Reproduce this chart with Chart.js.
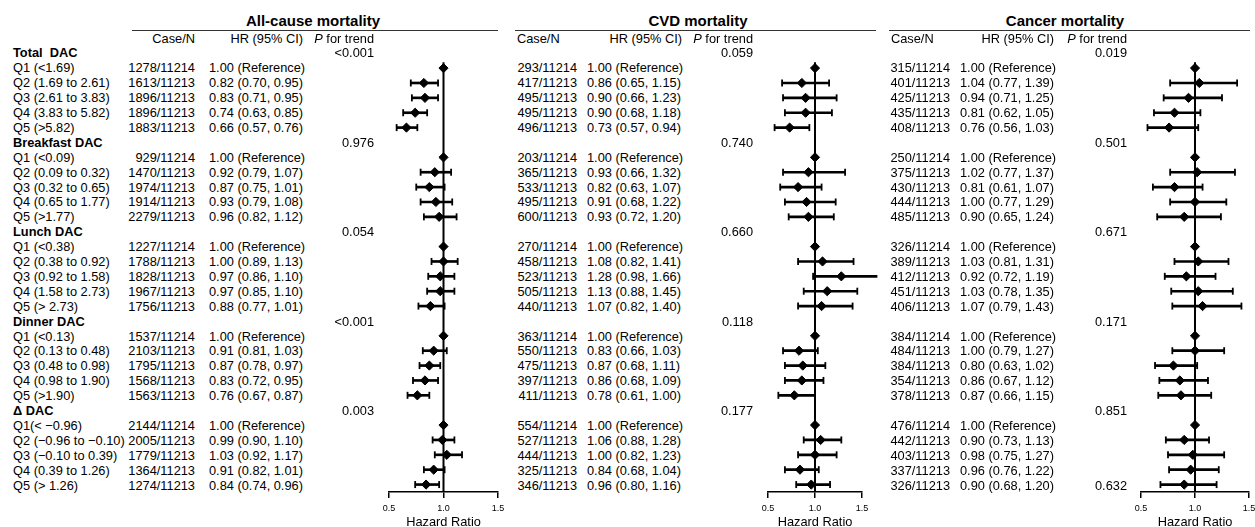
<!DOCTYPE html>
<html><head><meta charset="utf-8">
<script src="https://cdn.jsdelivr.net/npm/chart.js@4"></script>
<style>
html,body{margin:0;padding:0;width:1255px;height:527px;overflow:hidden;background:#fff;}
body{position:relative;font-family:"Liberation Sans",Arial,sans-serif;color:#000;}
.t{position:absolute;white-space:pre;font-size:12.8px;line-height:15px;}
.b{font-weight:bold;}
.ttl{font-size:15px;font-weight:bold;}
canvas{position:absolute;}
.rule{position:absolute;height:1px;background:#333;}
</style></head><body>
<canvas id="c1" width="145" height="490" style="left:370px;top:40px"></canvas>
<canvas id="c2" width="150" height="490" style="left:745px;top:40px"></canvas>
<canvas id="c3" width="150" height="490" style="left:1120px;top:40px"></canvas>
<script>
// ---------- data ----------
const groups = ["Total  DAC", "Breakfast DAC", "Lunch DAC", "Dinner DAC", "\u0394 DAC"];
const quintiles = [
  ["Q1 (<1.69)", "Q2 (1.69 to 2.61)", "Q3 (2.61 to 3.83)", "Q4 (3.83 to 5.82)", "Q5 (>5.82)"],
  ["Q1 (<0.09)", "Q2 (0.09 to 0.32)", "Q3 (0.32 to 0.65)", "Q4 (0.65 to 1.77)", "Q5 (>1.77)"],
  ["Q1 (<0.38)", "Q2 (0.38 to 0.92)", "Q3 (0.92 to 1.58)", "Q4 (1.58 to 2.73)", "Q5 (> 2.73)"],
  ["Q1 (<0.13)", "Q2 (0.13 to 0.48)", "Q3 (0.48 to 0.98)", "Q4 (0.98 to 1.90)", "Q5 (>1.90)"],
  ["Q1(< \u22120.96)", "Q2 (\u22120.96 to \u22120.10)", "Q3 (\u22120.10 to 0.39)", "Q4 (0.39 to 1.26)", "Q5 (> 1.26)"]
];
const hrTicks = [0.5, 1.0, 1.5];

const allCaseN = ["1278/11214","1613/11213","1896/11213","1896/11213","1883/11213",
  "929/11214","1470/11213","1974/11213","1914/11213","2279/11213",
  "1227/11214","1788/11213","1828/11213","1967/11213","1756/11213",
  "1537/11214","2103/11213","1795/11213","1568/11213","1563/11213",
  "2144/11214","2005/11213","1779/11213","1364/11213","1274/11213"];
const allHR = [1.00,0.82,0.83,0.74,0.66, 1.00,0.92,0.87,0.93,0.96, 1.00,1.00,0.97,0.97,0.88, 1.00,0.91,0.87,0.83,0.76, 1.00,0.99,1.03,0.91,0.84];
const allLo = [null,0.70,0.71,0.63,0.57, null,0.79,0.75,0.79,0.82, null,0.89,0.86,0.85,0.77, null,0.81,0.78,0.72,0.67, null,0.90,0.92,0.82,0.74];
const allHi = [null,0.95,0.95,0.85,0.76, null,1.07,1.01,1.08,1.12, null,1.13,1.10,1.10,1.01, null,1.03,0.97,0.95,0.87, null,1.10,1.17,1.01,0.96];
const allP = ["<0.001","0.976","0.054","<0.001","0.003"];

const cvdCaseN = ["293/11214","417/11213","495/11213","495/11213","496/11213",
  "203/11214","365/11213","533/11213","495/11213","600/11213",
  "270/11214","458/11213","523/11213","505/11213","440/11213",
  "363/11214","550/11213","475/11213","397/11213","411/11213",
  "554/11214","527/11213","444/11213","325/11213","346/11213"];
const cvdHR = [1.00,0.86,0.90,0.90,0.73, 1.00,0.93,0.82,0.91,0.93, 1.00,1.08,1.28,1.13,1.07, 1.00,0.83,0.87,0.86,0.78, 1.00,1.06,1.00,0.84,0.96];
const cvdLo = [null,0.65,0.66,0.68,0.57, null,0.66,0.63,0.68,0.72, null,0.82,0.98,0.88,0.82, null,0.66,0.68,0.68,0.61, null,0.88,0.82,0.68,0.80];
const cvdHi = [null,1.15,1.23,1.18,0.94, null,1.32,1.07,1.22,1.20, null,1.41,1.66,1.45,1.40, null,1.03,1.11,1.09,1.00, null,1.28,1.23,1.04,1.16];
const cvdP = ["0.059","0.740","0.660","0.118","0.177"];

const canCaseN = ["315/11214","401/11213","425/11213","435/11213","408/11213",
  "250/11214","375/11213","430/11213","444/11213","485/11213",
  "326/11214","389/11213","412/11213","451/11213","406/11213",
  "384/11214","484/11213","384/11213","354/11213","378/11213",
  "476/11214","442/11213","403/11213","337/11213","326/11213"];
const canHR = [1.00,1.04,0.94,0.81,0.76, 1.00,1.02,0.81,1.00,0.90, 1.00,1.03,0.92,1.03,1.07, 1.00,1.00,0.80,0.86,0.87, 1.00,0.90,0.98,0.96,0.90];
const canLo = [null,0.77,0.71,0.62,0.56, null,0.77,0.61,0.77,0.65, null,0.81,0.72,0.78,0.79, null,0.79,0.63,0.67,0.66, null,0.73,0.75,0.76,0.68];
const canHi = [null,1.39,1.25,1.05,1.03, null,1.37,1.07,1.29,1.24, null,1.31,1.19,1.35,1.43, null,1.27,1.02,1.12,1.15, null,1.13,1.27,1.22,1.20];
const canP = ["0.019","0.501","0.671","0.171","0.851"];
const canPLastRow = "0.632";

// ---------- layout helpers ----------
const ROW0 = 45, ROWH = 14.9;
const rowY = i => ROW0 + (i + 0.5) * ROWH;
const rowOf = k => Math.floor(k / 5) * 6 + (k % 5) + 1;

function txt(x, y, s, align, cls, html) {
  const d = document.createElement('div');
  d.className = 't' + (cls ? ' ' + cls : '');
  if (html) d.innerHTML = s; else d.textContent = s;
  d.style.left = x + 'px';
  d.style.top = y + 'px';
  const tx = align === 'right' ? '-100%' : align === 'center' ? '-50%' : '0';
  d.style.transform = 'translate(' + tx + ',-50%)';
  document.body.appendChild(d);
}
function rule(x1, x2, y) {
  const d = document.createElement('div');
  d.className = 'rule';
  d.style.left = x1 + 'px'; d.style.width = (x2 - x1) + 'px'; d.style.top = y + 'px';
  document.body.appendChild(d);
}
const hrText = (h, l, u) => l == null ? h.toFixed(2) + ' (Reference)' : h.toFixed(2) + ' (' + l.toFixed(2) + ', ' + u.toFixed(2) + ')';

// row labels
groups.forEach((g, gi) => {
  txt(13, rowY(gi * 6), g, 'left', 'b');
  quintiles[gi].forEach((q, qi) => txt(13, rowY(gi * 6 + qi + 1), q, 'left'));
});

const panels = [
  {title:'All-cause mortality', titleX:313, rule:[132,498], caseHead:{x:195,a:'right'}, caseRight:195, hrLeft:209, hrHeadRight:303, pRight:374,
   cases:allCaseN, hr:allHR, lo:allLo, hi:allHi, p:allP, canvas:'c1', pad:{l:19,r:17}},
  {title:'CVD mortality', titleX:698, rule:[515,876], caseHead:{x:517,a:'left'}, caseRight:577, hrLeft:587, hrHeadRight:682, pRight:753,
   cases:cvdCaseN, hr:cvdHR, lo:cvdLo, hi:cvdHi, p:cvdP, canvas:'c2', pad:{l:23,r:33}},
  {title:'Cancer mortality', titleX:1065, rule:[889,1250], caseHead:{x:891,a:'left'}, caseRight:950, hrLeft:960, hrHeadRight:1054, pRight:1127,
   cases:canCaseN, hr:canHR, lo:canLo, hi:canHi, p:canP, canvas:'c3', pad:{l:21,r:21}}
];

panels.forEach(P => {
  txt(P.titleX, 20, P.title, 'center', 'ttl');
  rule(P.rule[0], P.rule[1], 30);
  txt(P.caseHead.x, 38, 'Case/N', P.caseHead.a);
  txt(P.hrHeadRight, 38, 'HR (95% CI)', 'right');
  txt(P.pRight, 38, '<i>P</i> for trend', 'right', '', true);
  P.p.forEach((pv, gi) => txt(P.pRight, rowY(gi * 6), pv, 'right'));
  P.cases.forEach((c, k) => {
    const r = rowOf(k);
    txt(P.caseRight, rowY(r), c, 'right');
    txt(P.hrLeft, rowY(r), hrText(P.hr[k], P.lo[k], P.hi[k]), 'left');
  });
});
txt(panels[2].pRight, rowY(29), canPLastRow, 'right');

// ---------- forest plots ----------
const FONT = '"Liberation Sans", Arial, sans-serif';
function forest(P) {
  const pts = [], whisk = [], caps = [];
  P.hr.forEach((v, k) => {
    const r = rowOf(k);
    pts.push({x: v, y: r});
    if (P.lo[k] != null) {
      whisk.push({y: r, x: [P.lo[k], P.hi[k]]});
      caps.push({x: P.lo[k], y: r}, {x: P.hi[k], y: r});
    }
  });
  new Chart(document.getElementById(P.canvas), {
    type: 'scatter',
    data: {datasets: [
      {type:'scatter', data: pts, pointStyle:'rectRot', pointRadius:4.6, pointBackgroundColor:'#000', pointBorderColor:'#000', pointBorderWidth:1, clip:false},
      {type:'scatter', data: caps, pointStyle:'line', pointRotation:90, pointRadius:3.5, pointBorderColor:'#000', pointBorderWidth:1.8, clip:false},
      {type:'bar', indexAxis:'y', data: whisk, backgroundColor:'#000', barThickness:2, borderWidth:0, clip:false},
      {type:'line', data:[{x:1, y:0.6}, {x:1, y:29.5}], borderColor:'#000', borderWidth:2, pointRadius:0, clip:false}
    ]},
    options: {
      responsive:false, animation:false, events:[],
      layout:{padding:{top:5, bottom:0, left:P.pad.l, right:P.pad.r}},
      plugins:{legend:{display:false}, tooltip:{enabled:false}},
      scales:{
        y:{type:'linear', display:false, reverse:true, min:-0.5, max:29.5, offset:false},
        x:{type:'linear', min:0.5, max:1.5, offset:false,
           afterBuildTicks: s => { s.ticks = hrTicks.map(v => ({value:v})); },
           afterFit: s => { s.height = 38; },
           ticks:{callback: v => Number(v).toFixed(1), font:{size:9, family:FONT}, color:'#000', padding:5, maxRotation:0, autoSkip:false},
           grid:{drawOnChartArea:false, drawTicks:true, tickLength:6, color:'#000', lineWidth:1.5},
           border:{display:true, color:'#000', width:1.5},
           title:{display:true, text:'Hazard Ratio', color:'#000', font:{size:12.8, family:FONT}, padding:{top:0, bottom:0}}
        }
      }
    }
  });
}
panels.forEach(forest);
</script>
</body></html>
